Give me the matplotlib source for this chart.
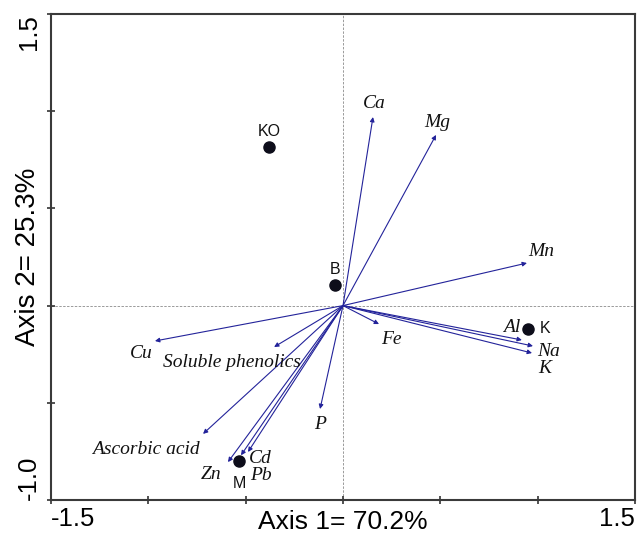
import numpy as np
import matplotlib
matplotlib.use("Agg")
import matplotlib.pyplot as plt

# site scores
sites = ["KO", "B", "K", "M"]
site_x = [-0.380, -0.041, 0.950, -0.534]
site_y = [0.816, 0.106, -0.120, -0.799]

# variable loadings (arrow tips)
variables = ["Ca", "Mg", "Mn", "Fe", "Al", "Na", "K", "P", "Cu",
             "Soluble phenolics", "Ascorbic acid", "Zn", "Cd", "Pb"]
var_x = [0.154, 0.478, 0.945, 0.185, 0.919, 0.976, 0.971, -0.118, -0.966,
         -0.354, -0.719, -0.591, -0.524, -0.488]
var_y = [0.970, 0.878, 0.219, -0.095, -0.177, -0.208, -0.244, -0.532, -0.182,
         -0.213, -0.660, -0.805, -0.770, -0.753]

xticks = [-1.5, -1.0, -0.5, 0.0, 0.5, 1.0, 1.5]
yticks = [-1.0, -0.5, 0.0, 0.5, 1.0, 1.5]

# label offsets in points (layout only)
site_off = {"KO": (0, 11), "B": (0, 11), "K": (12, 0), "M": (0, -16)}
var_off = {"Ca": (1, 10), "Mg": (1, 9), "Mn": (10, 8), "Fe": (9, -11),
           "Al": (-7, 9), "Na": (11, -4), "K": (9, -11), "P": (0, -11),
           "Cu": (-10, -9), "Soluble phenolics": (-30, -11),
           "Ascorbic acid": (-41, -11), "Zn": (-12, -9), "Cd": (14, -2),
           "Pb": (9, -17)}

arrow_col = "#23239a"

fig = plt.figure(figsize=(6.37, 5.34), dpi=100)
ax = fig.add_axes([51 / 637, 34 / 534, 584 / 637, 486 / 534])
ax.set_xlim(-1.5, 1.5)
ax.set_ylim(-1.0, 1.5)

ax.axhline(0, color="#9a9a9a", lw=0.7, ls=(0, (2.5, 1.5)), zorder=1)
ax.axvline(0, color="#9a9a9a", lw=0.7, ls=(0, (2.5, 1.5)), zorder=1)

for name, x, y in zip(variables, var_x, var_y):
    ax.annotate("", xy=(x, y), xytext=(0, 0),
                arrowprops=dict(arrowstyle="-|>", color=arrow_col, lw=0.8,
                                mutation_scale=6.5, shrinkA=0, shrinkB=0),
                zorder=2)
    dx, dy = var_off[name]
    ax.annotate(name, xy=(x, y), xytext=(dx, dy), textcoords="offset points",
                ha="center", va="center", fontsize=14, style="italic",
                family="Liberation Serif", color="#111111", zorder=4)

ax.plot(site_x, site_y, "o", color="#0d0d1a", ms=8, zorder=3)
for name, x, y in zip(sites, site_x, site_y):
    dx, dy = site_off[name]
    ax.annotate(name, xy=(x, y), xytext=(dx, dy), textcoords="offset points",
                ha="center", va="center", fontsize=11.5,
                family="Liberation Sans", color="#111111", zorder=4)

ax.set_xticks(xticks)
ax.set_xticklabels(["-1.5", "", "", "", "", "", "1.5"])
ax.set_yticks(yticks)
ax.set_yticklabels(["-1.0", "", "", "", "", "1.5"])
ax.tick_params(direction="inout", length=6, width=1.2, color="#333333",
               labelsize=18.5, pad=2)
for lab in ax.get_xticklabels():
    lab.set_family("Liberation Sans")
xl = ax.get_xticklabels()
xl[0].set_ha("left")
xl[-1].set_ha("right")
for lab in ax.get_yticklabels():
    lab.set_family("Liberation Sans")
    lab.set_rotation(90)
    lab.set_ha("center")
yl = ax.get_yticklabels()
yl[0].set_va("bottom")
yl[-1].set_va("top")
ax.tick_params(axis="y", pad=13)

ax.set_xlabel("Axis 1= 70.2%", fontsize=19, family="Liberation Sans")
ax.set_ylabel("Axis 2= 25.3%", fontsize=20, family="Liberation Sans")
ax.xaxis.set_label_coords(0.5, -0.045)
ax.yaxis.set_label_coords(-0.039, 0.5)
ax.xaxis.label.set_va("center")
ax.yaxis.label.set_va("center")

for sp in ax.spines.values():
    sp.set_color("#3a3a3a")
    sp.set_linewidth(1.5)

fig.savefig("out.png", dpi=100)
